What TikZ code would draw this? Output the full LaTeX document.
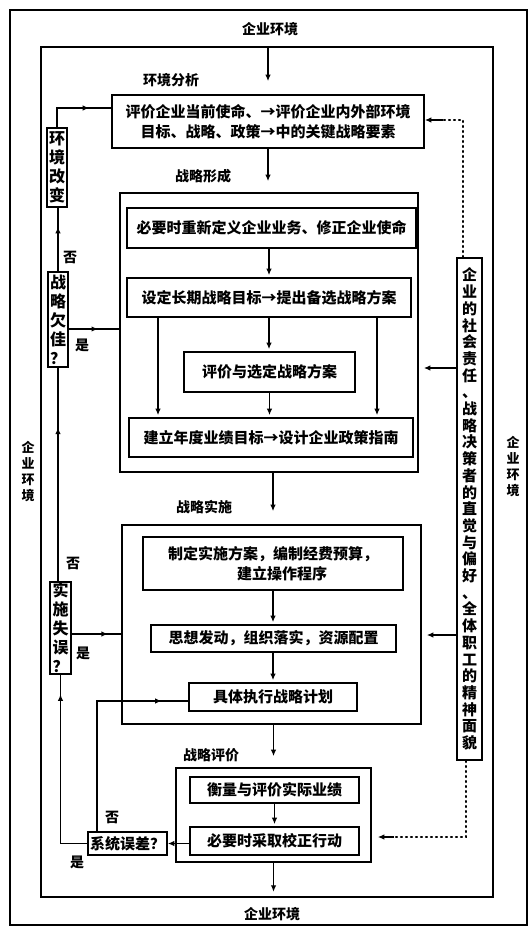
\documentclass[tikz,border=0pt]{standalone}
\usepackage{fontspec}
\setmainfont{Noto Sans CJK SC}
\usetikzlibrary{arrows.meta,decorations.markings,calc}
\newcommand{\bxfont}{\bfseries\fontsize{15}{20}\selectfont}
\newcommand{\vtfont}{\bfseries\fontsize{16}{19}\selectfont}
\newcommand{\rtfont}{\bfseries\fontsize{15}{16.7}\selectfont}
\newcommand{\lbfont}{\bfseries\fontsize{14}{16}\selectfont}
\newcommand{\sdfont}{\bfseries\fontsize{13}{16}\selectfont}
\tikzset{
  box/.style={draw, line width=1.6pt, inner sep=0pt, align=center, font=\bxfont},
  vbox/.style={draw, line width=1.6pt, inner sep=0pt, align=center, font=\vtfont},
  frm/.style={draw, line width=1.6pt, inner sep=0pt},
  lab/.style={font=\lbfont, inner sep=0pt},
  sidelab/.style={font=\sdfont, inner sep=0pt, align=center},
  arr/.style={line width=1.4pt, -{Latex[length=6.5pt,width=5.5pt]}},
  midarr/.style={line width=1.4pt, decoration={markings, mark=at position #1 with {\arrow{Latex[length=6.5pt,width=5.5pt]}}}, postaction={decorate}},
  midarr/.default=0.5,
  dotln/.style={line width=1.5pt, dash pattern=on 1.5pt off 3.5pt, line cap=round}
}
\begin{document}
\begin{tikzpicture}[x=1pt,y=-1pt]
\useasboundingbox (0,0) rectangle (531,928);
\fill[white] (0,0) rectangle (531,928);
% frames
\node[frm, minimum width=517, minimum height=915] (outer) at (268.5,467.5) {};
\node[frm, minimum width=452, minimum height=850] (inner) at (267,472) {};
% environment labels
\node[lab] (envtop) at (270,29) {企业环境};
\node[lab] (envbot) at (272,914) {企业环境};
\node[sidelab] (envleft) at (28,472) {企\\业\\环\\境};
\node[sidelab] (envright) at (513,467) {企\\业\\环\\境};
% stage labels
\node[lab] (l1) at (171,80) {环境分析};
\node[lab] (l2) at (203,176) {战略形成};
\node[lab] (l3) at (204,507) {战略实施};
\node[lab] (l4) at (211,755) {战略评价};
% environment analysis
\node[box, minimum width=312, minimum height=53] (env) at (268,121.5) {评价企业当前使命、→评价企业内外部环境\\目标、战略、政策→中的关键战略要素};
% strategy formulation
\node[frm, minimum width=298, minimum height=279] (f2) at (269,332.5) {};
\node[box, minimum width=289, minimum height=40] (a2) at (271.5,228) {必要时重新定义企业业务、修正企业使命};
\node[box, minimum width=284, minimum height=39] (b2) at (269,297.5) {设定长期战略目标→提出备选战略方案};
\node[box, minimum width=171, minimum height=40] (c2) at (269.5,372) {评价与选定战略方案};
\node[box, minimum width=284, minimum height=39] (d2) at (271,437.5) {建立年度业绩目标→设计企业政策指南};
% strategy implementation
\node[frm, minimum width=299, minimum height=199] (f3) at (271.5,624.5) {};
\node[box, minimum width=260, minimum height=53] (a3) at (273,563.5) {制定实施方案，编制经费预算，\\\hspace*{18pt}建立操作程序};
\node[box, minimum width=245, minimum height=27] (b3) at (273.5,638.5) {思想发动，组织落实，资源配置};
\node[box, minimum width=168, minimum height=28] (c3) at (273,697) {具体执行战略计划};
% strategy evaluation
\node[frm, minimum width=195, minimum height=94] (f4) at (273.5,815) {};
\node[box, minimum width=169, minimum height=26] (a4) at (274.5,790) {衡量与评价实际业绩};
\node[box, minimum width=169, minimum height=28] (b4) at (274.5,841) {必要时采取校正行动};
% decision boxes
\node[vbox, minimum width=20, minimum height=79] (envchg) at (57,167.5) {环\\境\\改\\变};
\node[vbox, minimum width=20, minimum height=95] (stratq) at (58,319.5) {战\\略\\欠\\佳\\？};
\node[vbox, minimum width=21, minimum height=92] (implq) at (60.5,628) {实\\施\\失\\误\\？};
\node[box, minimum width=79, minimum height=23] (sysq) at (127.5,843.5) {系统误差？};
% right influence box
\node[box, font=\rtfont, minimum width=25, minimum height=502] (rbox) at (469.5,509) {企\\业\\的\\社\\会\\责\\任\\、\\战\\略\\决\\策\\者\\的\\直\\觉\\与\\偏\\好\\、\\全\\体\\职\\工\\的\\精\\神\\面\\貌};
% yes / no labels
\node[lab] (no1) at (70,257) {否};
\node[lab] (yes1) at (82,345) {是};
\node[lab] (no2) at (73,563) {否};
\node[lab] (yes2) at (83,653) {是};
\node[lab] (no3) at (112,817) {否};
\node[lab] (yes3) at (77,862) {是};
% main flow
\draw[arr, shorten >=13pt] (inner.north -| env.north) -- (env.north);
\draw[arr, shorten >=11pt] (env.south) -- (env.south |- f2.north);
\draw[arr, shorten >=2pt] (a2.south -| b2.north) -- (b2.north);
\draw[arr, shorten >=2pt] (b2.south) -- (b2.south |- c2.north);
\draw[arr, shorten >=2pt] (c2.south) -- (c2.south |- d2.north);
\draw[arr, shorten >=2pt] ([xshift=-111pt]b2.south) -- ([xshift=-111pt]b2.south |- d2.north);
\draw[arr, shorten >=2pt] ([xshift=108pt]b2.south) -- ([xshift=108pt]b2.south |- d2.north);
\draw[arr, shorten >=13pt] (f2.south -| a3.north) -- (a3.north |- f3.north);
\draw[arr, shorten >=2pt] (a3.south) -- (a3.south |- b3.north);
\draw[arr, shorten >=2pt] (b3.south -| c3.north) -- (c3.north);
\draw[arr, shorten >=11pt] (f3.south -| f4.north) -- (f4.north);
\draw[arr, shorten >=2pt] (a4.south) -- (b4.north);
\draw[arr, shorten >=6pt] (f4.south) -- (f4.south |- inner.south);
% left feedback loops
\draw[midarr=0.7] (envchg.north) |- ([yshift=13.5pt]env.west);
\draw[midarr=0.7] (stratq.north) -- (stratq.north |- envchg.south);
\draw[midarr=0.58] ([yshift=-9.5pt]stratq.east) -- ([yshift=-9.5pt]stratq.east -| f2.west);
\draw[midarr=0.72] (stratq.south |- implq.north) -- (stratq.south);
\draw[midarr=0.73] ([yshift=-6pt]implq.east) -- ([yshift=-6pt]implq.east -| f3.west);
\draw[arr] (b4.west |- sysq.east) -- (sysq.east);
\draw[midarr=0.9] (sysq.west) -| (implq.south);
\draw[midarr=0.88] ([xshift=-30.5pt]sysq.north) |- ([yshift=-4pt]c3.west);
% right influences
\coordinate (envR) at ([yshift=1.5pt]env.east);
\coordinate (dtop) at ([xshift=-6.5pt]rbox.north);
\draw[dotln] (dtop) |- ([xshift=18pt]envR);
\draw[arr] ([xshift=18pt]envR) -- (envR);
\draw[arr, shorten >=5pt] ([yshift=141pt]rbox.west) -- ([yshift=141pt]rbox.west -| f2.east);
\draw[arr, shorten >=5pt] ([yshift=-126pt]rbox.west) -- ([yshift=-126pt]rbox.west -| f3.east);
\coordinate (f4R) at ([yshift=-22pt,xshift=6pt]f4.east);
\coordinate (dbot) at ([xshift=-3.5pt]rbox.south);
\draw[dotln] (dbot) |- ([xshift=16pt]f4R);
\draw[arr] ([xshift=16pt]f4R) -- (f4R);
\end{tikzpicture}
\end{document}
